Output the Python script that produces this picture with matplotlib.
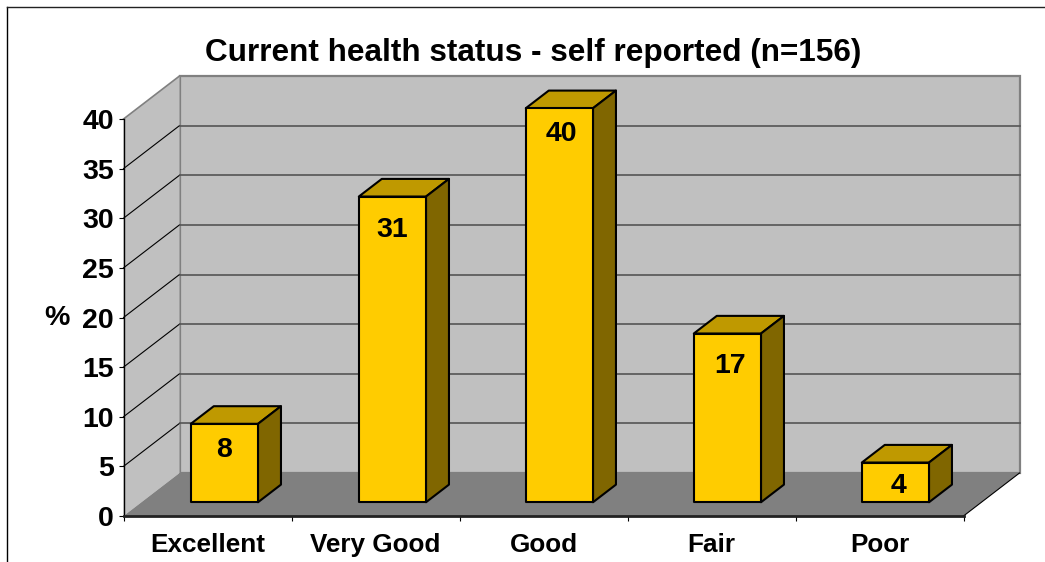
import matplotlib
matplotlib.use("Agg")
import matplotlib.pyplot as plt
from matplotlib.patches import Polygon
from matplotlib.lines import Line2D

categories = ["Excellent", "Very Good", "Good", "Fair", "Poor"]
values = [7.9, 30.8, 39.7, 17, 4]
value_labels = ["8", "31", "40", "17", "4"]
y_ticks = [0, 5, 10, 15, 20, 25, 30, 35, 40]

W, H = 1045, 562
plt.rcParams['font.family'] = ['Liberation Sans', 'DejaVu Sans']
fig = plt.figure(figsize=(W / 100, H / 100), dpi=100, facecolor='white')

# front plane of the 3-D box, in pixels
L, R, B, T = 123.5, 963.5, 516.0, 119.0
ax = fig.add_axes([L / W, 1 - B / H, (R - L) / W, (B - T) / H])
ax.set_xlim(0, 5)
ax.set_ylim(0, 40)
ax.patch.set_visible(False)

DX = 56 / 168.0            # category units per full depth
DY = 43 / ((B - T) / 40)   # value units per full depth


def P(x, y, d=0.0):
    return (x + DX * d, y + DY * d)


WALL, FLOOR = '#C0C0C0', '#808080'
FRONT, TOP, SIDE = '#FFCC00', '#BF9900', '#806600'

# walls and floor
ax.add_patch(Polygon([P(0, 0, 1), P(5, 0, 1), P(5, 40, 1), P(0, 40, 1)], closed=True,
                     fc=WALL, ec='#808080', lw=1.6, clip_on=False, zorder=1))
ax.add_patch(Polygon([P(0, 0), P(0, 0, 1), P(0, 40, 1), P(0, 40)], closed=True,
                     fc=WALL, ec='none', clip_on=False, zorder=1))
ax.add_patch(Polygon([P(0, 0), P(5, 0), P(5, 0, 1), P(0, 0, 1)], closed=True,
                     fc=FLOOR, ec='none', clip_on=False, zorder=2))

# gridlines on back and side walls
for v in y_ticks[1:-1]:
    a, b, c = P(0, v), P(0, v, 1), P(5, v, 1)
    ax.add_line(Line2D([a[0], b[0]], [a[1], b[1]], color='black', lw=0.8, clip_on=False, zorder=1.5))
    ax.add_line(Line2D([b[0], c[0]], [b[1], c[1]], color='#555555', lw=1.2, clip_on=False, zorder=1.5))
a, b = P(0, 40), P(0, 40, 1)
ax.add_line(Line2D([a[0], b[0]], [a[1], b[1]], color='#808080', lw=1.2, clip_on=False, zorder=1.5))
a, b = P(5, 0), P(5, 0, 1)
ax.add_line(Line2D([a[0], b[0]], [a[1], b[1]], color='black', lw=0.8, clip_on=False, zorder=2.5))

# bars
half, d0, d1 = 0.2, 0.32, 0.73
bar_shift = [-0.006, -0.006, -0.012, -0.012, -0.012]
label_drop = [2.6, 3.4, 2.6, 3.3, 2.4]
label_shift = [-0.006, -0.01, 0.0, 0.006, 0.006]
for i, v in enumerate(values):
    c = i + 0.5
    x0, x1 = c + bar_shift[i] - half, c + bar_shift[i] + half
    kw = dict(closed=True, ec='black', lw=1.5, joinstyle='round', clip_on=False, zorder=3)
    ax.add_patch(Polygon([P(x0, v, d0), P(x1, v, d0), P(x1, v, d1), P(x0, v, d1)], fc=TOP, **kw))
    ax.add_patch(Polygon([P(x1, 0, d0), P(x1, 0, d1), P(x1, v, d1), P(x1, v, d0)], fc=SIDE, **kw))
    ax.add_patch(Polygon([P(x0, 0, d0), P(x1, 0, d0), P(x1, v, d0), P(x0, v, d0)], fc=FRONT, **kw))
    lx, ly = P(c + label_shift[i], v - label_drop[i], d0)
    ax.text(lx, ly, value_labels[i], ha='center', va='center', fontsize=20.5, fontweight='bold', zorder=4)

# axes, ticks, tick labels
for s in ('top', 'right'):
    ax.spines[s].set_visible(False)
ax.spines['left'].set_linewidth(1.0)
ax.spines['bottom'].set_linewidth(2.0)
ax.spines['bottom'].set_color('#222222')
for s in ax.spines.values():
    s.set_zorder(2.6)
ax.set_yticks(y_ticks)
ax.set_yticklabels([str(v) for v in y_ticks], fontsize=20.5, fontweight='bold')
ax.tick_params(axis='y', length=3.6, width=0.8, pad=3.5)
ax.set_xticks(range(6))
ax.set_xticklabels([])
ax.set_xticks([i + 0.5 for i in range(5)], minor=True)
ax.set_xticklabels(categories, minor=True, fontsize=18.8, fontweight='bold')
ax.tick_params(axis='x', which='major', length=3.6, width=0.8)
ax.tick_params(axis='x', which='minor', length=0, pad=12)

fig.text(57 / W, 1 - 318 / H, '%', ha='center', va='center', fontsize=20.5, fontweight='bold')
fig.text(533 / W, 1 - 53 / H, 'Current health status - self reported (n=156)',
         ha='center', va='center', fontsize=22.7, fontweight='bold')

# outer frame (top and left edges only)
fig.add_artist(Line2D([7.0 / W, 7.0 / W], [0, 1 - 7.0 / H], color='black', lw=1.0))
fig.add_artist(Line2D([7.0 / W, 1], [1 - 7.0 / H, 1 - 7.0 / H], color='#222222', lw=1.0))

fig.savefig('out.png', dpi=100, facecolor='white')
